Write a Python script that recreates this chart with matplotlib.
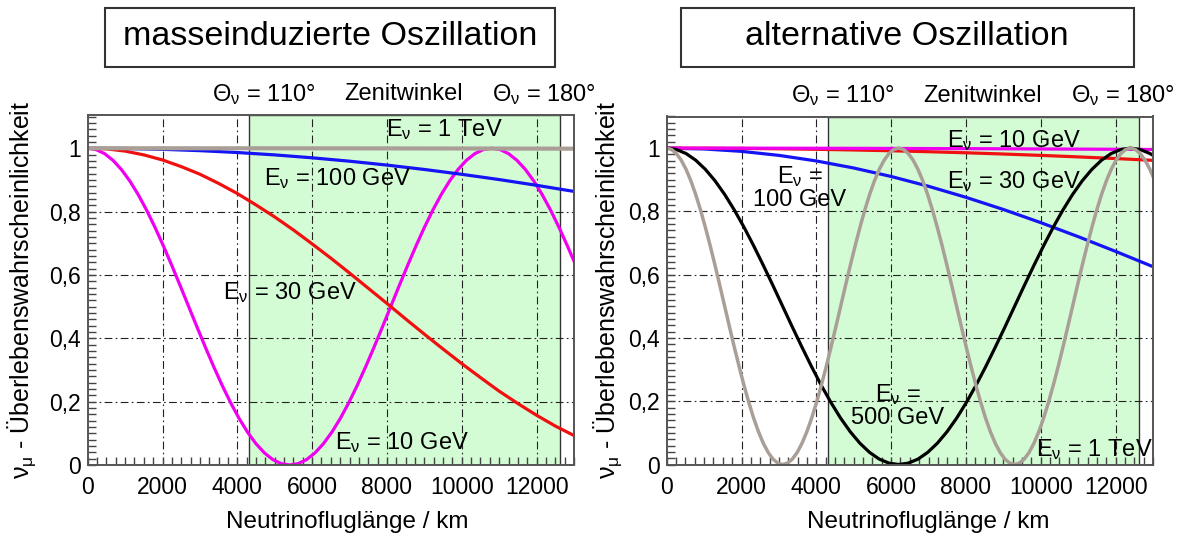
import matplotlib
matplotlib.use("Agg")
import matplotlib.pyplot as plt
from matplotlib import font_manager
from matplotlib.patches import Rectangle
from matplotlib.ticker import MultipleLocator, FixedLocator, FixedFormatter
import matplotlib.transforms as mtransforms

# ---------------- data ----------------
# left panel: masseinduzierte Oszillation
left_gray_km = [0, 1000, 2000, 3000, 4000, 5000, 6000, 7000, 8000, 9000, 10000, 11000, 12000, 13000]
left_gray_p = [1.0, 1.0, 1.0, 0.9999, 0.9999, 0.9998, 0.9997, 0.9996, 0.9995, 0.9993, 0.9992, 0.999, 0.9988, 0.9986]

left_blue_km = [0, 1000, 2000, 3000, 4000, 5000, 6000, 7000, 8000, 9000, 10000, 11000, 12000, 13000]
left_blue_p = [1.0, 0.9992, 0.9966, 0.9924, 0.9865, 0.979, 0.9698, 0.9591, 0.9468, 0.933, 0.9177, 0.9011, 0.883, 0.8637]

left_red_km = [0, 500, 1000, 1500, 2000, 2500, 3000, 3500, 4000, 4500, 5000, 5500, 6000, 6500,
               7000, 7500, 8000, 8500, 9000, 9500, 10000, 10500, 11000, 11500, 12000, 12500, 13000]
left_red_p = [1.0, 0.998, 0.991, 0.979, 0.963, 0.942, 0.918, 0.889, 0.857, 0.821, 0.783, 0.742, 0.698, 0.653,
              0.606, 0.558, 0.510, 0.461, 0.413, 0.366, 0.320, 0.276, 0.233, 0.194, 0.157, 0.123, 0.093]

left_mag_km = [0, 225, 450, 675, 900, 1125, 1350, 1575, 1800, 2025, 2250, 2475, 2700, 2925, 3150, 3375,
               3600, 3825, 4050, 4275, 4500, 4725, 4950, 5175, 5400, 5625, 5850, 6075, 6300, 6525, 6750,
               6975, 7200, 7425, 7650, 7875, 8100, 8325, 8550, 8775, 9000, 9225, 9450, 9675, 9900, 10125,
               10350, 10575, 10800, 11025, 11250, 11475, 11700, 11925, 12150, 12375, 12600, 12825, 13000]
left_mag_p = [1.0, 0.9957, 0.983, 0.9619, 0.933, 0.8967, 0.8536, 0.8044, 0.75, 0.6913, 0.6294, 0.5653,
              0.5, 0.4347, 0.3706, 0.3087, 0.25, 0.1956, 0.1464, 0.1033, 0.067, 0.0381, 0.017, 0.0043,
              0.0, 0.0043, 0.017, 0.0381, 0.067, 0.1033, 0.1464, 0.1956, 0.25, 0.3087, 0.3706, 0.4347,
              0.5, 0.5653, 0.6294, 0.6913, 0.75, 0.8044, 0.8536, 0.8967, 0.933, 0.9619, 0.983, 0.9957,
              1.0, 0.9957, 0.983, 0.9619, 0.933, 0.8967, 0.8536, 0.8044, 0.75, 0.6913, 0.6434]

# right panel: alternative Oszillation
right_mag_km = [0, 1000, 2000, 3000, 4000, 5000, 6000, 7000, 8000, 9000, 10000, 11000, 12000, 13000]
right_mag_p = [1.0, 1.0, 0.9999, 0.9998, 0.9996, 0.9994, 0.9991, 0.9987, 0.9984, 0.9979, 0.9974, 0.9969, 0.9963, 0.9957]

right_red_km = [0, 1000, 2000, 3000, 4000, 5000, 6000, 7000, 8000, 9000, 10000, 11000, 12000, 13000]
right_red_p = [1.0, 0.9998, 0.9991, 0.9979, 0.9963, 0.9942, 0.9917, 0.9887, 0.9853, 0.9814, 0.9771, 0.9723, 0.9671, 0.9614]

right_blue_km = [0, 1000, 2000, 3000, 4000, 5000, 6000, 7000, 8000, 9000, 10000, 11000, 12000, 13000]
right_blue_p = [1.0, 0.9974, 0.9898, 0.9771, 0.9595, 0.9372, 0.9104, 0.8794, 0.8445, 0.8061, 0.7645, 0.7202, 0.6736, 0.6253]

right_black_km = [0, 258, 517, 775, 1033, 1292, 1550, 1808, 2067, 2325, 2583, 2842, 3100, 3358, 3617, 3875,
                  4133, 4392, 4650, 4908, 5167, 5425, 5683, 5942, 6200, 6458, 6717, 6975, 7233, 7492, 7750,
                  8008, 8267, 8525, 8783, 9042, 9300, 9558, 9817, 10075, 10333, 10592, 10850, 11108, 11367,
                  11625, 11883, 12142, 12400, 12658, 12917, 13000]
right_black_p = [1.0, 0.9957, 0.983, 0.9619, 0.933, 0.8967, 0.8536, 0.8044, 0.75, 0.6913, 0.6294, 0.5653,
                 0.5, 0.4347, 0.3706, 0.3087, 0.25, 0.1956, 0.1464, 0.1033, 0.067, 0.0381, 0.017, 0.0043,
                 0.0, 0.0043, 0.017, 0.0381, 0.067, 0.1033, 0.1464, 0.1956, 0.25, 0.3087, 0.3706, 0.4347,
                 0.5, 0.5653, 0.6294, 0.6913, 0.75, 0.8044, 0.8536, 0.8967, 0.933, 0.9619, 0.983, 0.9957,
                 1.0, 0.9957, 0.983, 0.9771]

right_gray_km = [0, 129, 258, 388, 517, 646, 775, 904, 1033, 1163, 1292, 1421, 1550, 1679, 1808, 1938,
                 2067, 2196, 2325, 2454, 2583, 2713, 2842, 2971, 3100, 3229, 3358, 3488, 3617, 3746, 3875,
                 4004, 4133, 4263, 4392, 4521, 4650, 4779, 4908, 5038, 5167, 5296, 5425, 5554, 5683, 5813,
                 5942, 6071, 6200, 6329, 6458, 6588, 6717, 6846, 6975, 7104, 7233, 7363, 7492, 7621, 7750,
                 7879, 8008, 8138, 8267, 8396, 8525, 8654, 8783, 8913, 9042, 9171, 9300, 9429, 9558, 9688,
                 9817, 9946, 10075, 10204, 10333, 10463, 10592, 10721, 10850, 10979, 11108, 11238, 11367,
                 11496, 11625, 11754, 11883, 12013, 12142, 12271, 12400, 12529, 12658, 12788, 12917, 13000]
right_gray_p = [1.0, 0.9957, 0.983, 0.9619, 0.933, 0.8967, 0.8536, 0.8044, 0.75, 0.6913, 0.6294, 0.5653,
                0.5, 0.4347, 0.3706, 0.3087, 0.25, 0.1956, 0.1464, 0.1033, 0.067, 0.0381, 0.017, 0.0043,
                0.0, 0.0043, 0.017, 0.0381, 0.067, 0.1033, 0.1464, 0.1956, 0.25, 0.3087, 0.3706, 0.4347,
                0.5, 0.5653, 0.6294, 0.6913, 0.75, 0.8044, 0.8536, 0.8967, 0.933, 0.9619, 0.983, 0.9957,
                1.0, 0.9957, 0.983, 0.9619, 0.933, 0.8967, 0.8536, 0.8044, 0.75, 0.6913, 0.6294, 0.5653,
                0.5, 0.4347, 0.3706, 0.3087, 0.25, 0.1956, 0.1464, 0.1033, 0.067, 0.0381, 0.017, 0.0043,
                0.0, 0.0043, 0.017, 0.0381, 0.067, 0.1033, 0.1464, 0.1956, 0.25, 0.3087, 0.3706, 0.4347,
                0.5, 0.5653, 0.6294, 0.6913, 0.75, 0.8044, 0.8536, 0.8967, 0.933, 0.9619, 0.983, 0.9957,
                1.0, 0.9957, 0.983, 0.9619, 0.933, 0.9104]

zenith_band_km = [4320, 12630]          # Θν = 110° ... 180°
x_ticks = [0, 2000, 4000, 6000, 8000, 10000, 12000]
x_tick_labels = ["0", "2000", "4000", "6000", "8000", "10000", "12000"]
y_ticks = [0, 0.2, 0.4, 0.6, 0.8, 1.0]
y_tick_labels = ["0", "0,2", "0,4", "0,6", "0,8", "1"]
titles = ["masseinduzierte Oszillation", "alternative Oszillation"]
x_label = "Neutrinoflugl\u00e4nge / km"
y_label = "\u03bd$_{\\mathregular{\u03bc}}$ - \u00dcberlebenswahrscheinlichkeit"

# ---------------- fonts ----------------
names = {f.name for f in font_manager.fontManager.ttflist}
narrow = "Liberation Sans Narrow" in names
base = "Liberation Sans Narrow" if narrow else "Liberation Sans"
plt.rcParams["font.family"] = [base, "DejaVu Sans"]
plt.rcParams["mathtext.fontset"] = "custom"
plt.rcParams["mathtext.rm"] = base
plt.rcParams["mathtext.it"] = base
plt.rcParams["mathtext.bf"] = base
if narrow:
    FS_TITLE, FS_LAB, FS_YLAB, FS_TICK, FS_ANN = 29, 21, 21.5, 19.5, 20
else:
    FS_TITLE, FS_LAB, FS_YLAB, FS_TICK, FS_ANN = 24.5, 17.5, 18, 16.5, 17

W, H = 1189, 538
fig = plt.figure(figsize=(W / 100, H / 100), dpi=100)

def px_axes(l, t, r, b):
    return [l / W, (H - b) / H, (r - l) / W, (b - t) / H]

axL = fig.add_axes(px_axes(87.7, 115.3, 574, 465))
axR = fig.add_axes(px_axes(666.7, 116.5, 1153, 464.5))

GREEN = "#d4fcd4"
MAG, RED, BLUE, GRAY, BLACK = "#f000f0", "#f01010", "#1414f5", "#aa9f96", "#000000"
GRID_KW = dict(color="#222222", lw=0.8, dashes=(7, 3, 1.5, 3), zorder=1)

def E(txt):
    return "E$_{\\mathregular{\u03bd}}$ = " + txt

for ax, ymax in ((axL, 1.104), (axR, 1.1)):
    ax.set_xlim(0, 13000)
    ax.set_ylim(0, ymax)
    ax.axvspan(zenith_band_km[0], zenith_band_km[1], facecolor=GREEN, edgecolor="#333333", lw=1.0, zorder=0)
    for xv in x_ticks[1:]:
        ax.axvline(xv, **GRID_KW)
    for yv in y_ticks[1:]:
        ax.axhline(yv, **GRID_KW)
    ax.xaxis.set_major_locator(FixedLocator(x_ticks))
    ax.xaxis.set_major_formatter(FixedFormatter(x_tick_labels))
    ax.yaxis.set_major_locator(FixedLocator(y_ticks))
    ax.yaxis.set_major_formatter(FixedFormatter(y_tick_labels))
    ax.xaxis.set_minor_locator(MultipleLocator(250))
    ax.yaxis.set_minor_locator(MultipleLocator(0.02))
    ax.tick_params(which="both", direction="in", color="#444444", width=1.0, labelsize=FS_TICK)
    ax.tick_params(which="major", length=6)
    ax.tick_params(which="minor", length=5.5)
    ax.tick_params(axis="x", pad=8)
    ax.tick_params(axis="y", pad=5)
    for s in ax.spines.values():
        s.set_color("#555555")
        s.set_linewidth(1.4)
        s.set_zorder(5)
    trans = mtransforms.blended_transform_factory(ax.transData, ax.transAxes)
    for xv, txt in ((4700, "\u0398$_{\\mathregular{\u03bd}}$ = 110\u00b0"), (8450, "Zenitwinkel"),
                    (12200, "\u0398$_{\\mathregular{\u03bd}}$ = 180\u00b0")):
        ax.text(xv, 1.06, txt, transform=trans, ha="center", va="center", fontsize=FS_ANN, clip_on=False)

# left curves
axL.plot(left_mag_km, left_mag_p, color=MAG, lw=2.3, zorder=3)
axL.plot(left_red_km, left_red_p, color=RED, lw=2.3, zorder=3)
axL.plot(left_blue_km, left_blue_p, color=BLUE, lw=2.3, zorder=3)
axL.plot(left_gray_km, left_gray_p, color=GRAY, lw=3.0, zorder=4)
axL.text(9530, 1.058, E("1 TeV"), ha="center", va="center", fontsize=FS_ANN, zorder=6)
axL.text(6690, 0.903, E("100 GeV"), ha="center", va="center", fontsize=FS_ANN, zorder=6)
axL.text(5395, 0.546, E("30 GeV"), ha="center", va="center", fontsize=FS_ANN, zorder=6)
axL.text(8410, 0.07, E("10 GeV"), ha="center", va="center", fontsize=FS_ANN, zorder=6)

# right curves
axR.plot(right_blue_km, right_blue_p, color=BLUE, lw=2.3, zorder=3)
axR.plot(right_red_km, right_red_p, color=RED, lw=2.3, zorder=3)
axR.plot(right_mag_km, right_mag_p, color=MAG, lw=2.3, zorder=3)
axR.plot(right_black_km, right_black_p, color=BLACK, lw=2.3, zorder=3)
axR.plot(right_gray_km, right_gray_p, color=GRAY, lw=2.5, zorder=4)
axR.text(9290, 1.023, E("10 GeV"), ha="center", va="center", fontsize=FS_ANN, zorder=6)
axR.text(9290, 0.895, E("30 GeV"), ha="center", va="center", fontsize=FS_ANN, zorder=6)
axR.text(3552, 0.876, "E$_{\\mathregular{\u03bd}}$ =\n100 GeV", ha="center", va="center",
         fontsize=FS_ANN, zorder=6, linespacing=1.0)
axR.text(6184, 0.187, "E$_{\\mathregular{\u03bd}}$ =\n500 GeV", ha="center", va="center",
         fontsize=FS_ANN, zorder=6, linespacing=1.0)
axR.text(11425, 0.046, E("1 TeV"), ha="center", va="center", fontsize=FS_ANN, zorder=6)

# titles in boxes
for (l, r), cx, title in (((105, 555), 330, titles[0]), ((681, 1134), 907, titles[1])):
    fig.patches.append(Rectangle((l / W, 1 - 67 / H), (r - l) / W, (67 - 8) / H, transform=fig.transFigure,
                                 fill=False, edgecolor="#333333", lw=1.5))
    fig.text(cx / W, 1 - 37 / H, title, ha="center", va="center", fontsize=FS_TITLE)

# axis labels
fig.text(347 / W, 1 - 522 / H, x_label, ha="center", va="center", fontsize=FS_LAB)
fig.text(928 / W, 1 - 522 / H, x_label, ha="center", va="center", fontsize=FS_LAB)
fig.text(22 / W, 1 - 290 / H, y_label, ha="center", va="center", rotation=90, fontsize=FS_YLAB)
fig.text(608 / W, 1 - 290 / H, y_label, ha="center", va="center", rotation=90, fontsize=FS_YLAB)

fig.savefig("out.png", dpi=100)
